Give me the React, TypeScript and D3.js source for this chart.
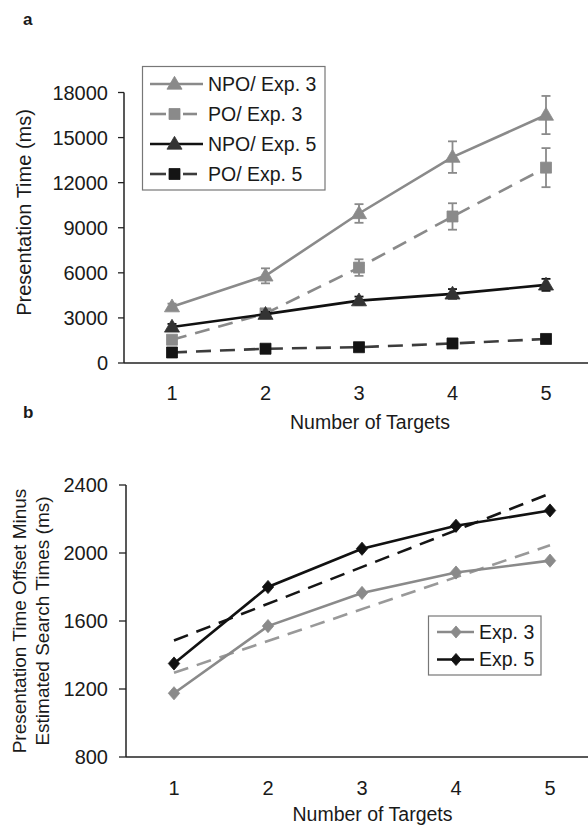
import React from "react";
import * as d3 from "d3";

// ---------- Data ----------
const targets = [1, 2, 3, 4, 5];

// Panel a: presentation time (ms)
const npoExp3 = [3750, 5800, 9950, 13700, 16500];
const npoExp3Err = [200, 500, 620, 1050, 1270];
const poExp3 = [1550, 3300, 6350, 9750, 13000];
const poExp3Err = [150, 200, 550, 880, 1300];
const npoExp5 = [2400, 3250, 4150, 4600, 5200];
const npoExp5Err = [200, 150, 270, 320, 400];
const poExp5 = [700, 950, 1050, 1300, 1600];
const poExp5Err = [60, 60, 60, 80, 80];
const yTicksA = [0, 3000, 6000, 9000, 12000, 15000, 18000];

// Panel b: presentation time offset minus estimated search times (ms)
const exp3 = [1175, 1570, 1765, 1885, 1955];
const exp5 = [1350, 1800, 2025, 2160, 2250];
// dashed trend lines (values at targets 1 and 5)
const trendTargets = [1, 5];
const trendExp3 = [1295, 2045];
const trendExp5 = [1485, 2350];
const yTicksB = [800, 1200, 1600, 2000, 2400];

const FONT = "'Liberation Sans', Arial, Helvetica, sans-serif";
const TXT = "#1a1a1a";
const GRAY = "#8a8a8a";

type Marker = "tri" | "sq" | "dia";

function markerPath(kind: Marker, s: number) {
  if (kind === "tri") {
    const h = s * 0.95;
    return `M0,${-h * 0.62}L${s * 0.58},${h * 0.42}L${-s * 0.58},${h * 0.42}Z`;
  }
  if (kind === "sq") {
    const h = s / 2;
    return `M${-h},${-h}H${h}V${h}H${-h}Z`;
  }
  const h = s / 2;
  return `M0,${-h * 1.1}L${h * 0.95},0L0,${h * 1.1}L${-h * 0.95},0Z`;
}

export default function App() {
  // ---------- Panel a scales ----------
  const xA = d3.scalePoint<number>().domain(targets).range([172, 546]);
  const yA = d3.scaleLinear().domain([0, 18000]).range([363, 92.5]);
  const axA = { left: 124, right: 588, bottom: 363 };

  // ---------- Panel b scales ----------
  const xB = d3.scalePoint<number>().domain(targets).range([174, 550]);
  const yB = d3.scaleLinear().domain([800, 2400]).range([757, 485]);
  const axB = { left: 126, right: 588, bottom: 757 };

  const lineA = (vals: number[]) =>
    d3.line<number>().x((_, i) => xA(targets[i])!).y((v) => yA(v))(vals)!;
  const lineB = (vals: number[], xs: number[]) =>
    d3.line<number>().x((_, i) => xB(xs[i])!).y((v) => yB(v))(vals)!;

  const seriesA = [
    { name: "NPO/ Exp. 3", vals: npoExp3, err: npoExp3Err, line: GRAY, fill: GRAY, dash: "", mk: "tri" as Marker, size: 13 },
    { name: "PO/ Exp. 3", vals: poExp3, err: poExp3Err, line: GRAY, fill: GRAY, dash: "15,9", mk: "sq" as Marker, size: 11 },
    { name: "NPO/ Exp. 5", vals: npoExp5, err: npoExp5Err, line: "#111", fill: "#333", dash: "", mk: "tri" as Marker, size: 13 },
    { name: "PO/ Exp. 5", vals: poExp5, err: poExp5Err, line: "#3c3c3c", fill: "#141414", dash: "15,9", mk: "sq" as Marker, size: 11 },
  ];

  const seriesB = [
    { name: "Exp. 3", vals: exp3, trend: trendExp3, line: GRAY, fill: GRAY, trendColor: "#999" },
    { name: "Exp. 5", vals: exp5, trend: trendExp5, line: "#111", fill: "#111", trendColor: "#151515" },
  ];

  return (
    <svg
      width={588}
      height={825}
      style={{ position: "absolute", left: 0, top: 0, background: "#fff" }}
      fontFamily={FONT}
    >
      <rect x={0} y={0} width={588} height={825} fill="#fff" />

      {/* ================= Panel a ================= */}
      <text x={23} y={25} fontSize={17} fontWeight="bold" fill={TXT}>a</text>

      {/* axes */}
      <line x1={axA.left} x2={axA.left} y1={yA(18000)} y2={axA.bottom} stroke="#222" strokeWidth={1.5} />
      <line x1={axA.left} x2={axA.right} y1={axA.bottom} y2={axA.bottom} stroke="#222" strokeWidth={1.5} />
      {yTicksA.map((t) => (
        <g key={t}>
          <line x1={axA.left - 6} x2={axA.left} y1={yA(t)} y2={yA(t)} stroke="#222" strokeWidth={1.3} />
          <text x={108} y={yA(t)} dy="0.35em" textAnchor="end" fontSize={20} fill={TXT}>{t}</text>
        </g>
      ))}
      {targets.map((t) => (
        <text key={t} x={xA(t)} y={400} textAnchor="middle" fontSize={20} fill={TXT}>{t}</text>
      ))}
      <text x={370} y={429} textAnchor="middle" fontSize={19.5} fill={TXT}>Number of Targets</text>
      <text
        transform={`translate(31,212.5) rotate(-90)`}
        textAnchor="middle"
        fontSize={20}
        fill={TXT}
      >Presentation Time (ms)</text>

      {/* series */}
      {seriesA.map((s) => (
        <g key={s.name}>
          {s.vals.map((v, i) => {
            const x = xA(targets[i])!;
            return (
              <g key={i} stroke={s.line} strokeWidth={1.8}>
                <line x1={x} x2={x} y1={yA(v + s.err[i])} y2={yA(v - s.err[i])} />
                <line x1={x - 4.5} x2={x + 4.5} y1={yA(v + s.err[i])} y2={yA(v + s.err[i])} />
                <line x1={x - 4.5} x2={x + 4.5} y1={yA(v - s.err[i])} y2={yA(v - s.err[i])} />
              </g>
            );
          })}
          <path d={lineA(s.vals)} fill="none" stroke={s.line} strokeWidth={2.6} strokeDasharray={s.dash || undefined} />
          {s.vals.map((v, i) => (
            <path
              key={i}
              transform={`translate(${xA(targets[i])},${yA(v)})`}
              d={markerPath(s.mk, s.size)}
              fill={s.fill}
              stroke={s.fill}
              strokeWidth={0.8}
            />
          ))}
        </g>
      ))}

      {/* legend a */}
      <rect x={142.5} y={66.5} width={182.5} height={123.5} fill="#fff" stroke="#777" strokeWidth={1.2} />
      {seriesA.map((s, i) => {
        const cy = 84 + i * 30;
        const dashed = !!s.dash;
        return (
          <g key={s.name}>
            {dashed ? (
              <>
                <line x1={150} x2={166} y1={cy} y2={cy} stroke={s.line} strokeWidth={2.6} />
                <line x1={183} x2={197} y1={cy} y2={cy} stroke={s.line} strokeWidth={2.6} />
              </>
            ) : (
              <line x1={150} x2={203} y1={cy} y2={cy} stroke={s.line} strokeWidth={2.6} />
            )}
            <path
              transform={`translate(174.5,${cy})`}
              d={markerPath(s.mk, s.size)}
              fill={s.fill}
              stroke={s.fill}
              strokeWidth={0.8}
            />
            <text x={208} y={cy} dy="0.35em" fontSize={19.5} fill={TXT}>{s.name}</text>
          </g>
        );
      })}

      {/* ================= Panel b ================= */}
      <text x={23} y={418} fontSize={17} fontWeight="bold" fill={TXT}>b</text>

      <line x1={axB.left} x2={axB.left} y1={yB(2400)} y2={axB.bottom} stroke="#222" strokeWidth={1.5} />
      <line x1={axB.left} x2={axB.right} y1={axB.bottom} y2={axB.bottom} stroke="#222" strokeWidth={1.5} />
      {yTicksB.map((t) => (
        <g key={t}>
          <line x1={axB.left - 7} x2={axB.left} y1={yB(t)} y2={yB(t)} stroke="#222" strokeWidth={1.3} />
          <text x={108} y={yB(t)} dy="0.35em" textAnchor="end" fontSize={20} fill={TXT}>{t}</text>
        </g>
      ))}
      {targets.map((t) => (
        <text key={t} x={xB(t)} y={795} textAnchor="middle" fontSize={20} fill={TXT}>{t}</text>
      ))}
      <text x={372.5} y={821} textAnchor="middle" fontSize={19.5} fill={TXT}>Number of Targets</text>
      <text transform={`translate(26,621) rotate(-90)`} textAnchor="middle" fontSize={19} fill={TXT}>
        Presentation Time Offset Minus
      </text>
      <text transform={`translate(49,621) rotate(-90)`} textAnchor="middle" fontSize={19} fill={TXT}>
        Estimated Search Times (ms)
      </text>

      {/* trend lines */}
      {seriesB.map((s) => (
        <path
          key={s.name + "t"}
          d={lineB(s.trend, trendTargets)}
          fill="none"
          stroke={s.trendColor}
          strokeWidth={2.6}
          strokeDasharray="15,9"
        />
      ))}
      {seriesB.map((s) => (
        <g key={s.name}>
          <path d={lineB(s.vals, targets)} fill="none" stroke={s.line} strokeWidth={2.6} />
          {s.vals.map((v, i) => (
            <path
              key={i}
              transform={`translate(${xB(targets[i])},${yB(v)})`}
              d={markerPath("dia", 12)}
              fill={s.fill}
              stroke={s.fill}
              strokeWidth={0.8}
            />
          ))}
        </g>
      ))}

      {/* legend b */}
      <rect x={428.5} y={616} width={112.5} height={59} fill="#fff" stroke="#777" strokeWidth={1.2} />
      {seriesB.map((s, i) => {
        const cy = 632 + i * 27.5;
        return (
          <g key={s.name + "l"}>
            <line x1={437} x2={474} y1={cy} y2={cy} stroke={s.line} strokeWidth={2.6} />
            <path
              transform={`translate(456,${cy})`}
              d={markerPath("dia", 11)}
              fill={s.fill}
              stroke={s.fill}
              strokeWidth={0.8}
            />
            <text x={479} y={cy} dy="0.35em" fontSize={19.5} fill={TXT}>{s.name}</text>
          </g>
        );
      })}
    </svg>
  );
}
